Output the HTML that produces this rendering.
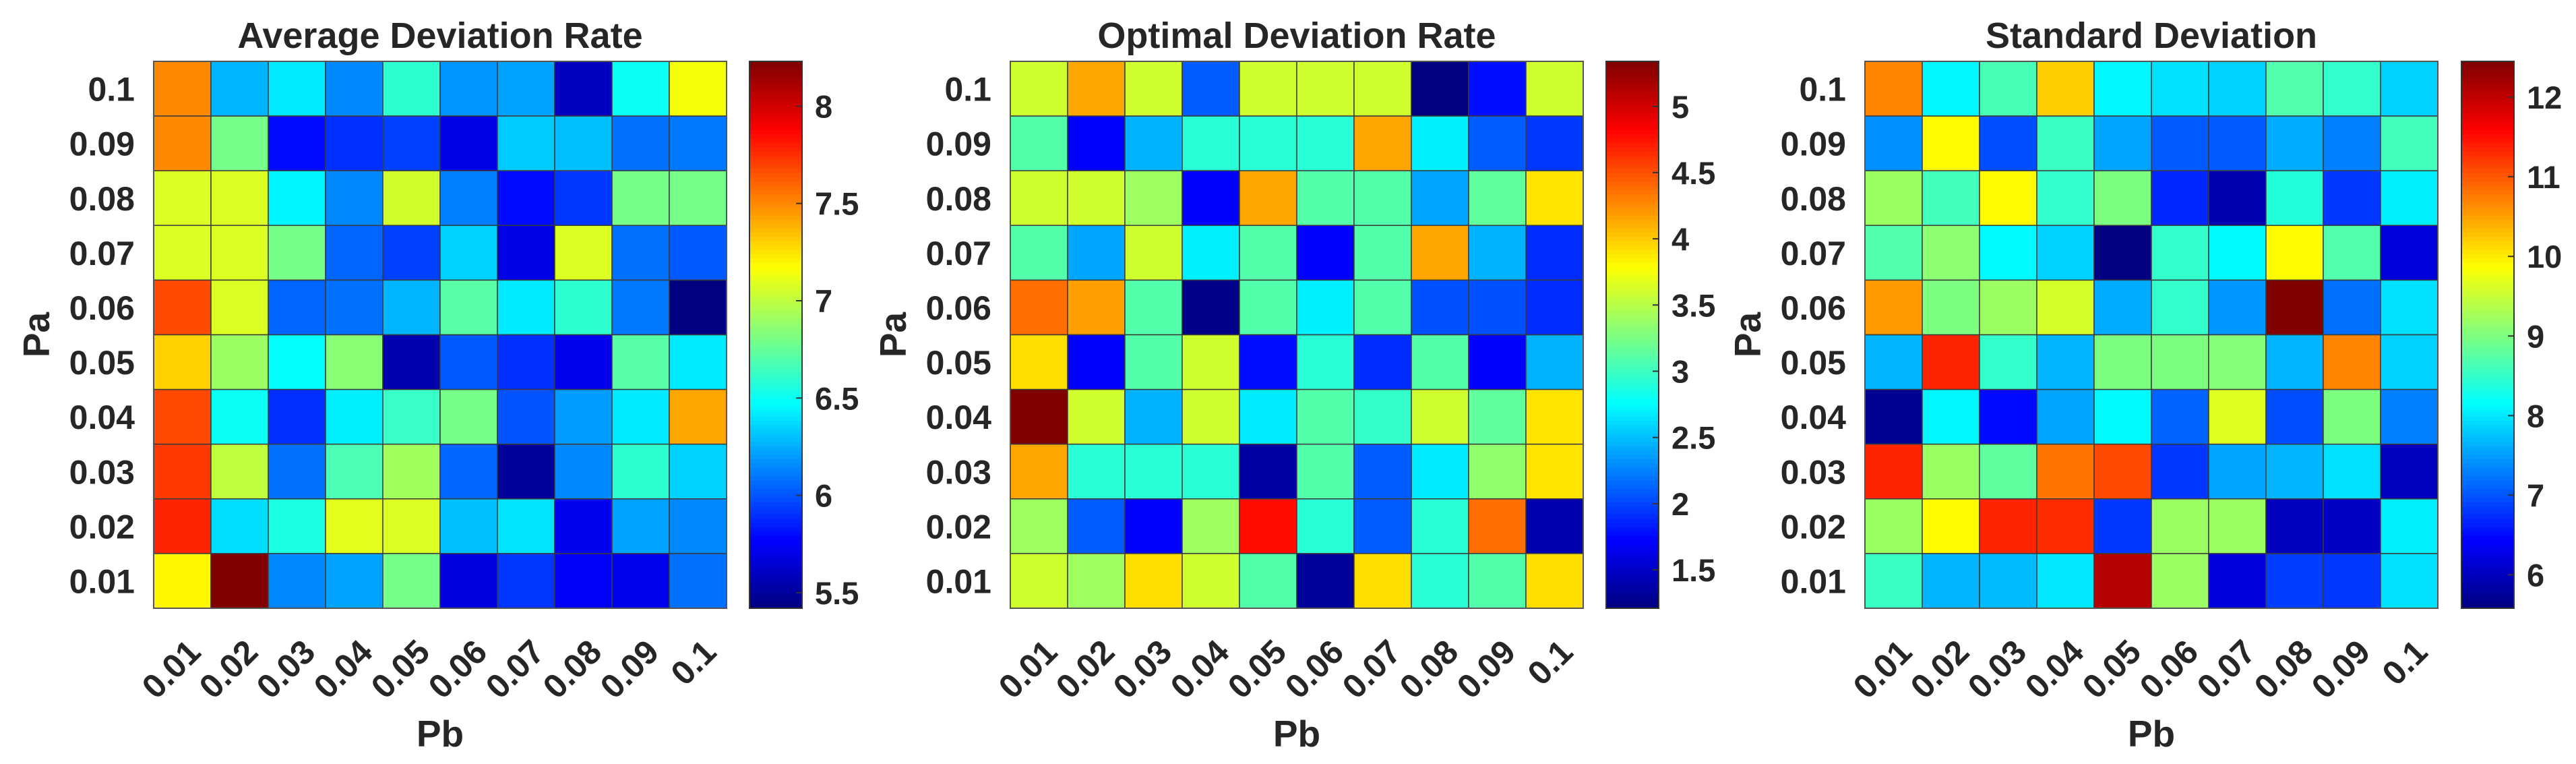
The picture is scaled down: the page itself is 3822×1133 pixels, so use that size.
<!DOCTYPE html>
<html><head><meta charset="utf-8">
<style>
html,body{margin:0;padding:0;background:#fff;}
svg{display:block;}
text{font-family:"Liberation Sans",Arial,sans-serif;fill:#262626;}
</style></head>
<body>
<svg id="fig" width="3822" height="1133" viewBox="0 0 3822 1133" xmlns="http://www.w3.org/2000/svg"></svg>
<script>
// Shared axis categories
const pbLabels = ["0.01","0.02","0.03","0.04","0.05","0.06","0.07","0.08","0.09","0.1"];
const paLabels = ["0.1","0.09","0.08","0.07","0.06","0.05","0.04","0.03","0.02","0.01"]; // top to bottom

// Panel 1: Average Deviation Rate (rows Pa 0.1 -> 0.01, cols Pb 0.01 -> 0.1)
const avgValues = [
 [7.50,6.27,6.42,6.15,6.60,6.18,6.22,5.60,6.50,7.15],
 [7.50,6.80,5.80,5.90,5.95,5.70,6.33,6.30,6.08,6.10],
 [7.08,7.08,6.45,6.15,7.05,6.12,5.80,5.92,6.80,6.80],
 [7.08,7.08,6.80,6.05,5.95,6.35,5.70,7.08,6.08,6.02],
 [7.68,7.08,6.05,6.08,6.27,6.72,6.42,6.60,6.10,5.42],
 [7.30,6.90,6.48,6.85,5.55,6.02,5.90,5.72,6.72,6.42],
 [7.68,6.50,5.90,6.43,6.63,6.80,6.00,6.20,6.42,7.42],
 [7.72,7.00,6.08,6.68,6.92,6.05,5.50,6.15,6.60,6.35],
 [7.78,6.38,6.55,7.10,7.08,6.30,6.40,5.72,6.22,6.15],
 [7.20,8.23,6.15,6.22,6.80,5.68,5.92,5.75,5.72,6.08]
];
const avgTicks = [5.5,6,6.5,7,7.5,8];

// Panel 2: Optimal Deviation Rate
const optValues = [
 [3.60,4.15,3.60,2.10,3.60,3.60,3.60,1.21,1.78,3.60],
 [3.10,1.72,2.45,2.92,2.92,2.92,4.15,2.70,2.10,1.95],
 [3.60,3.60,3.40,1.72,4.15,3.10,3.10,2.40,3.15,3.90],
 [3.10,2.40,3.60,2.70,3.10,1.72,3.10,4.15,2.45,1.90],
 [4.38,4.18,3.10,1.25,3.10,2.70,3.10,2.05,2.05,1.90],
 [3.92,1.72,3.10,3.60,1.78,2.92,1.90,3.10,1.72,2.45],
 [5.34,3.60,2.45,3.60,2.68,3.10,2.97,3.60,3.15,3.90],
 [4.15,2.92,2.92,2.92,1.35,3.10,2.10,2.68,3.35,3.90],
 [3.40,2.10,1.72,3.40,4.78,2.92,2.10,2.92,4.38,1.40],
 [3.60,3.40,3.92,3.60,3.10,1.32,3.92,2.92,3.10,3.92]
];
const optTicks = [1.5,2,2.5,3,3.5,4,4.5,5];

// Panel 3: Standard Deviation
const stdValues = [
 [10.70,8.10,8.65,10.20,8.10,7.95,7.85,8.70,8.50,7.85],
 [7.40,9.90,6.95,8.55,7.55,7.05,7.05,7.60,7.30,8.60],
 [9.20,8.60,9.90,8.50,9.00,6.70,5.90,8.40,6.80,8.05],
 [8.70,9.10,8.12,7.85,5.58,8.50,8.12,9.90,8.70,6.20],
 [10.55,9.00,9.20,9.60,7.60,8.50,7.45,12.45,7.20,7.95],
 [7.65,11.35,8.50,7.65,9.00,9.00,9.05,7.65,10.70,7.85],
 [5.70,8.10,6.50,7.55,8.12,7.10,9.65,6.95,9.00,7.30],
 [11.35,9.20,8.80,10.80,11.10,6.80,7.55,7.65,7.95,6.00],
 [9.20,9.90,11.35,11.30,6.80,9.20,9.20,6.00,6.05,8.05],
 [8.55,7.65,7.70,8.00,12.10,9.20,6.20,6.85,6.80,7.95]
];
const stdTicks = [6,7,8,9,10,11,12];

const NS = "http://www.w3.org/2000/svg";
const svg = document.getElementById('fig');
function mk(tag, attrs, parent){
  const e = document.createElementNS(NS, tag);
  for (const k in attrs) e.setAttribute(k, attrs[k]);
  (parent||svg).appendChild(e);
  return e;
}
function jet(t){
  t = Math.max(0, Math.min(1, t));
  const c = v => Math.round(255*Math.max(0, Math.min(1, v)));
  return `rgb(${c(1.5-Math.abs(4*t-3))},${c(1.5-Math.abs(4*t-2))},${c(1.5-Math.abs(4*t-1))})`;
}

const HY = 91, HH = 811, HW = 850, CBW = 78;

function drawPanel(key, title, values, ticks, hx, cbx){
  const g = mk('g', {});
  
  
  const flat = values.flat();
  const vmin = Math.min(...flat), vmax = Math.max(...flat);
  const nR = values.length, nC = values[0].length;
  const cw = HW / nC, ch = HH / nR;
  const xScale = j => hx + j * cw;
  const yScale = i => HY + i * ch;
  const cScale = v => (v - vmin) / (vmax - vmin);

  const t = mk('text', {x: hx + HW/2, y: 71, 'text-anchor':'middle', 'font-size':54, 'font-weight':'bold'}, g);
  t.textContent = title;
  
  

  for (let i = 0; i < nR; i++){
    for (let j = 0; j < nC; j++){
      const r = mk('rect', {x: xScale(j), y: yScale(i), width: cw, height: ch,
        fill: jet(cScale(values[i][j])), stroke:'#3a3a3a', 'stroke-width':1.5}, g);
      
      
    }
  }
  const box = mk('rect', {x: hx, y: HY, width: HW, height: HH, fill:'none', stroke:'#555', 'stroke-width':2}, g);
  
  

  paLabels.forEach((lab, i) => {
    const tx = mk('text', {x: hx - 28, y: yScale(i) + ch/2 + 18, 'text-anchor':'end', 'font-size':50, 'font-weight':'bold'}, g);
    tx.textContent = lab;
    
    
  });
  pbLabels.forEach((lab, j) => {
    const ax = xScale(j) + cw/2 + 30, ay = 970;
    const tx = mk('text', {x: ax, y: ay, 'text-anchor':'end', 'font-size':50, 'font-weight':'bold',
      transform:`rotate(-45 ${ax} ${ay})`}, g);
    tx.textContent = lab;
    
    
  });

  const ya = mk('text', {x: hx - 155, y: HY + HH/2, 'text-anchor':'middle', 'font-size':55, 'font-weight':'bold',
    transform:`rotate(-90 ${hx - 155} ${HY + HH/2})`}, g);
  ya.textContent = 'Pa';
  
  
  const xa = mk('text', {x: hx + HW/2, y: 1107, 'text-anchor':'middle', 'font-size':55, 'font-weight':'bold'}, g);
  xa.textContent = 'Pb';
  
  

  // colorbar
  const cb = mk('g', {}, g);
  
  
  const N = 128, sh = HH / N;
  for (let k = 0; k < N; k++){
    mk('rect', {x: cbx, y: HY + HH - (k+1)*sh, width: CBW, height: sh + 0.6, fill: jet((k+0.5)/N)}, cb);
  }
  mk('rect', {x: cbx, y: HY, width: CBW, height: HH, fill:'none', stroke:'#333', 'stroke-width':2}, cb);
  const cbY = v => HY + HH - (v - vmin) / (vmax - vmin) * HH;
  ticks.forEach(v => {
    const y = cbY(v);
    mk('line', {x1: cbx + CBW - 9, x2: cbx + CBW, y1: y, y2: y, stroke:'#333', 'stroke-width':2}, cb);
    const tl = mk('text', {x: cbx + CBW + 19, y: y + 17, 'font-size':47, 'font-weight':'bold'}, cb);
    tl.textContent = String(v);
    
    
  });
}

drawPanel('average-deviation', 'Average Deviation Rate', avgValues, avgTicks, 228, 1112);
drawPanel('optimal-deviation', 'Optimal Deviation Rate', optValues, optTicks, 1499, 2383);
drawPanel('standard-deviation', 'Standard Deviation', stdValues, stdTicks, 2767, 3652);
</script>
</body></html>
